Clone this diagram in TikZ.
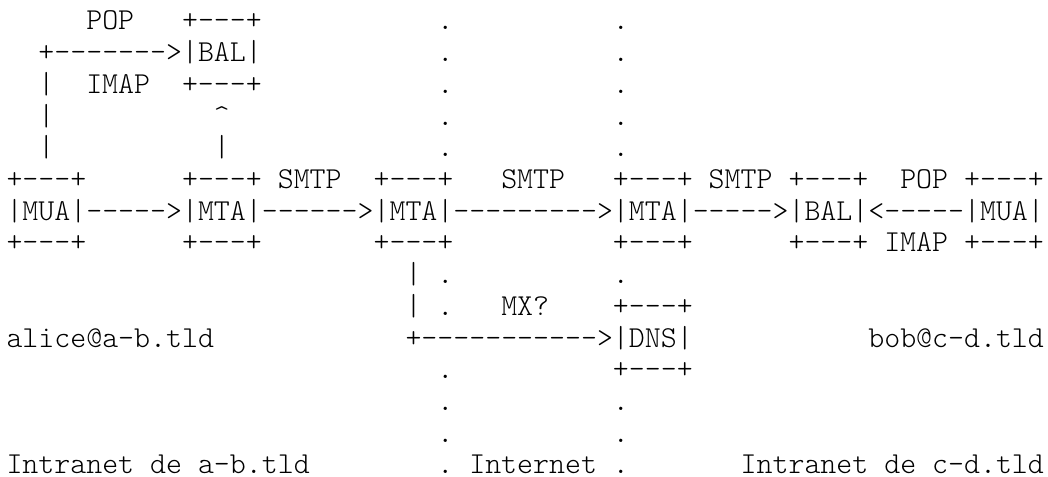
\documentclass[tikz,border=0pt]{standalone}
\usepackage{fontspec}
\setmonofont{lmmonolt10-regular.otf}
\frenchspacing
\begin{document}
\begin{tikzpicture}[x=0.75pt,y=-0.75pt,
  ascii/.style={anchor=base west,inner sep=0pt,outer sep=0pt,
    font=\ttfamily\fontsize{22.8}{26}\selectfont}]
 \useasboundingbox (0,0) rectangle (1048,477);
 % one node per line of the sketch, 31.7px apart
 \node[ascii] (row1)  at (6.5,30.0)  {~~~~~POP~~~+---+~~~~~~~~~~~.~~~~~~~~~~.};
 \node[ascii] (row2)  at (6.5,61.7)  {~~+------->|BAL|~~~~~~~~~~~.~~~~~~~~~~.};
 \node[ascii] (row3)  at (6.5,93.4)  {~~|~~IMAP~~+---+~~~~~~~~~~~.~~~~~~~~~~.};
 \node[ascii] (row4)  at (6.5,125.1) {~~|~~~~~~~~~~\textasciicircum~~~~~~~~~~~~~.~~~~~~~~~~.};
 \node[ascii] (row5)  at (6.5,156.8) {~~|~~~~~~~~~~|~~~~~~~~~~~~~.~~~~~~~~~~.};
 \node[ascii] (row6)  at (6.5,188.5) {+---+~~~~~~+---+~SMTP~~+---+~~~SMTP~~~+---+~SMTP~+---+~~POP~+---+};
 \node[ascii] (row7)  at (6.5,220.2) {|MUA|----->|MTA|------>|MTA|--------->|MTA|----->|BAL|<-----|MUA|};
 \node[ascii] (row8)  at (6.5,251.9) {+---+~~~~~~+---+~~~~~~~+---+~~~~~~~~~~+---+~~~~~~+---+~IMAP~+---+};
 \node[ascii] (row9)  at (6.5,283.6) {~~~~~~~~~~~~~~~~~~~~~~~~~|~.~~~~~~~~~~.};
 \node[ascii] (row10) at (6.5,315.3) {~~~~~~~~~~~~~~~~~~~~~~~~~|~.~~~MX?~~~~+---+};
 \node[ascii] (row11) at (6.5,347.0) {alice@a-b.tld~~~~~~~~~~~~+----------->|DNS|~~~~~~~~~~~bob@c-d.tld};
 \node[ascii] (row12) at (6.5,378.7) {~~~~~~~~~~~~~~~~~~~~~~~~~~~.~~~~~~~~~~+---+};
 \node[ascii] (row13) at (6.5,410.4) {~~~~~~~~~~~~~~~~~~~~~~~~~~~.~~~~~~~~~~.};
 \node[ascii] (row14) at (6.5,442.1) {~~~~~~~~~~~~~~~~~~~~~~~~~~~.~~~~~~~~~~.};
 \node[ascii] (row15) at (6.5,473.8) {Intranet~de~a-b.tld~~~~~~~~.~Internet~.~~~~~~~Intranet~de~c-d.tld};
\end{tikzpicture}
\end{document}
